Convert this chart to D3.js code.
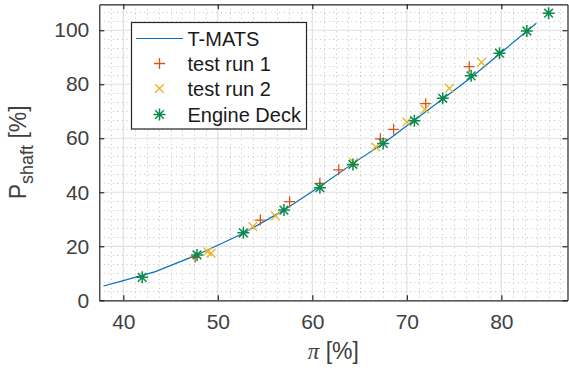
<!DOCTYPE html>
<html><head><meta charset="utf-8">
<script src="https://cdn.jsdelivr.net/npm/d3@7"></script>
<style>body{margin:0;background:#fff}svg{display:block}</style>
</head><body>
<svg id="c" width="569" height="372"></svg>
<script>
const xTicks = [40, 50, 60, 70, 80];
const yTicks = [0, 20, 40, 60, 80, 100];
const tmatsX = [37.9, 40, 43.4, 47.8, 52.7, 56.9, 60.8, 64.3, 67.5, 73.9, 76.9, 79.9, 83.7];
const tmatsY = [5.3, 7.3, 10.6, 16.8, 24.8, 33.2, 42.1, 50.7, 58.1, 74.8, 82.8, 91.5, 102.6];
const run1X = [47.6, 54.5, 57.6, 60.8, 62.8, 67.2, 68.6, 72.0, 76.6];
const run1Y = [15.9, 29.7, 36.5, 43.3, 48.3, 59.8, 63.3, 72.8, 86.5];
const run2X = [48.9, 49.3, 53.7, 56.1, 64.4, 66.7, 70.0, 71.9, 74.5, 77.9];
const run2Y = [18.0, 17.4, 27.3, 31.2, 51.0, 56.8, 66.0, 70.7, 78.5, 88.1];
const deckX = [42.0, 47.8, 52.7, 57.0, 60.8, 64.3, 67.5, 70.8, 73.8, 76.8, 79.8, 82.7, 85.0];
const deckY = [8.5, 16.8, 25.0, 33.4, 41.7, 50.3, 58.1, 66.5, 74.8, 83.1, 91.5, 99.7, 106.3];
const legendLabels = ["T-MATS", "test run 1", "test run 2", "Engine Deck"];

const C = {line: "#0072BD", r1: "#D95319", r2: "#EDB120", deck: "#0B8A4C", axis: "#262626", text: "#404040"};
const FONT = "'Liberation Sans', Arial, Helvetica, sans-serif";
const L = 99.3, R = 567.5, T = 4.3, B = 300.3;
const x = d3.scaleLinear().domain([37.46, 87.0]).range([L, R]);
const y = d3.scaleLinear().domain([0, 109.6]).range([B, T]);
const svg = d3.select("#c");

// minor grid
const xMinor = d3.range(0, 40).map(i => 37.5 + i * 1.25).filter(v => v > 37.6 && v < 87 && !xTicks.includes(v));
const yMinor = d3.range(0, 34).map(i => i * 20 / 6).filter(v => v > 0.1 && v < 109.5 && !yTicks.some(t => Math.abs(t - v) < 0.01));
const g = svg.append("g");
g.selectAll(".xm").data(xMinor).join("line")
  .attr("x1", d => Math.round(x(d)) + 0.5).attr("x2", d => Math.round(x(d)) + 0.5).attr("y1", T).attr("y2", B)
  .attr("stroke", "#c2c2c2").attr("stroke-dasharray", "1,3.5").attr("stroke-width", 1);
g.selectAll(".ym").data(yMinor).join("line")
  .attr("y1", d => Math.round(y(d)) + 0.5).attr("y2", d => Math.round(y(d)) + 0.5).attr("x1", L).attr("x2", R)
  .attr("stroke", "#c2c2c2").attr("stroke-dasharray", "1,3.5").attr("stroke-width", 1);
// major grid
g.selectAll(".xg").data(xTicks).join("line")
  .attr("x1", d => x(d)).attr("x2", d => x(d)).attr("y1", T).attr("y2", B)
  .attr("stroke", "#e0e0e0").attr("stroke-width", 1.2);
g.selectAll(".yg").data(yTicks.filter(v => v > 0)).join("line")
  .attr("y1", d => y(d)).attr("y2", d => y(d)).attr("x1", L).attr("x2", R)
  .attr("stroke", "#e0e0e0").attr("stroke-width", 1.2);

// axes with d3 axis generators
const tickLen = 5;
const xAx = svg.append("g").attr("transform", `translate(0,${B})`)
  .call(d3.axisBottom(x).tickValues(xTicks).tickSize(-tickLen).tickPadding(14).tickSizeOuter(0));
const xAxTop = svg.append("g").attr("transform", `translate(0,${T})`)
  .call(d3.axisTop(x).tickValues(xTicks).tickSize(-tickLen).tickFormat("").tickSizeOuter(0));
const yAx = svg.append("g").attr("transform", `translate(${L},0)`)
  .call(d3.axisLeft(y).tickValues(yTicks).tickSize(-tickLen).tickPadding(10).tickSizeOuter(0));
const yAxR = svg.append("g").attr("transform", `translate(${R},0)`)
  .call(d3.axisRight(y).tickValues(yTicks).tickSize(-tickLen).tickFormat("").tickSizeOuter(0));
[xAx, xAxTop, yAx, yAxR].forEach(a => {
  a.select(".domain").attr("stroke", C.axis).attr("stroke-width", 1.2);
  a.selectAll(".tick line").attr("stroke", C.axis).attr("stroke-width", 1.2);
  a.selectAll("text").attr("fill", C.text).style("font-family", FONT).style("font-size", "21px");
});

// data
const lineData = tmatsX.map((v, i) => [v, tmatsY[i]]);
svg.append("path").datum(lineData)
  .attr("d", d3.line().x(d => x(d[0])).y(d => y(d[1])))
  .attr("fill", "none").attr("stroke", C.line).attr("stroke-width", 1.2);

const pPlus = s => `M${-s},0H${s}M0,${-s}V${s}`;
const pCross = s => `M${-s},${-s}L${s},${s}M${-s},${s}L${s},${-s}`;
const pStar = s => { const a = s * 0.72; return `M${-s},0H${s}M0,${-s}V${s}M${-a},${-a}L${a},${a}M${-a},${a}L${a},${-a}`; };

function markers(xs, ys, path, color, sw) {
  svg.append("g").selectAll("path").data(xs.map((v, i) => [v, ys[i]])).join("path")
    .attr("transform", d => `translate(${x(d[0])},${y(d[1])})`)
    .attr("d", path).attr("fill", "none").attr("stroke", color).attr("stroke-width", sw);
}
markers(run1X, run1Y, pPlus(5.5), C.r1, 1.3);
markers(run2X, run2Y, pCross(4.3), C.r2, 1.3);
markers(deckX, deckY, pStar(6), C.deck, 1.5);

// legend
const lg = svg.append("g");
lg.append("rect").attr("x", 131.5).attr("y", 22.5).attr("width", 175).attr("height", 106.5)
  .attr("fill", "#fff").attr("stroke", C.axis).attr("stroke-width", 1.2);
const rowY = [38.5, 63.5, 88.5, 114.5];
lg.append("line").attr("x1", 136).attr("x2", 183).attr("y1", rowY[0]).attr("y2", rowY[0])
  .attr("stroke", C.line).attr("stroke-width", 1.2);
lg.append("path").attr("transform", `translate(159.5,${rowY[1]})`).attr("d", pPlus(5.5)).attr("fill", "none").attr("stroke", C.r1).attr("stroke-width", 1.3);
lg.append("path").attr("transform", `translate(159.5,${rowY[2]})`).attr("d", pCross(4.3)).attr("fill", "none").attr("stroke", C.r2).attr("stroke-width", 1.3);
lg.append("path").attr("transform", `translate(159.5,${rowY[3]})`).attr("d", pStar(6)).attr("fill", "none").attr("stroke", C.deck).attr("stroke-width", 1.5);
lg.selectAll("text").data(legendLabels).join("text")
  .attr("x", 187.5).attr("y", (d, i) => rowY[i] + 7)
  .attr("fill", "#1a1a1a").style("font-family", FONT).style("font-size", "20px").text(d => d);

// axis titles
svg.append("text").attr("x", (L + R) / 2).attr("y", 359).attr("text-anchor", "middle")
  .attr("fill", C.text).style("font-family", FONT).style("font-size", "23px")
  .html('<tspan font-family="\'Liberation Serif\', serif" font-style="italic">π</tspan> [%]');
const yt = svg.append("text").attr("transform", `translate(26,${(T + B) / 2}) rotate(-90)`)
  .attr("text-anchor", "middle").attr("fill", C.text).style("font-family", FONT).style("font-size", "23px");
yt.append("tspan").text("P");
yt.append("tspan").attr("dy", 7).style("font-size", "18px").text("shaft");
yt.append("tspan").attr("dy", -7).text(" [%]");
</script>
</body></html>
